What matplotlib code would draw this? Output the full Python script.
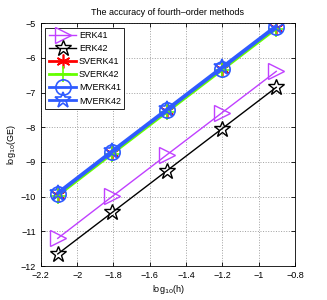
import numpy as np
import matplotlib.pyplot as plt

# step sizes h = 1/8 ... 1/128
log_h = [-2.107, -1.806, -1.505, -1.204, -0.903]

erk41 = [-11.20, -9.99, -8.79, -7.59, -6.39]
erk42 = [-11.65, -10.45, -9.25, -8.05, -6.85]
sverk41 = [-9.94, -8.73, -7.53, -6.33, -5.13]
sverk42 = [-9.97, -8.76, -7.56, -6.36, -5.16]
mverk41 = [-9.92, -8.71, -7.51, -6.31, -5.11]
mverk42 = [-9.88, -8.67, -7.47, -6.27, -5.07]

plt.rcParams['font.family'] = ['Liberation Sans', 'DejaVu Sans']
plt.rcParams['font.size'] = 6.5

fig = plt.figure(figsize=(3.27, 3.0), dpi=100)
ax = fig.add_axes([0.125, 0.113, 0.777, 0.81])

ax.plot(log_h, erk41, color='#c040ff', lw=1.0, marker='>', ms=11, mfc='none', mew=1.0, label='ERK41')
ax.plot(log_h, erk42, color='black', lw=1.0, marker='*', ms=12, mfc='none', mew=1.0, label='ERK42')
ax.plot(log_h, sverk41, color='red', lw=2.0, marker=(6, 2, 0), ms=10, mew=1.2, label='SVERK41')
ax.plot(log_h, sverk42, color='#66ff00', lw=2.0, marker='+', ms=11, mew=1.2, label='SVERK42')
ax.plot(log_h, mverk41, color='#2f5bff', lw=2.0, marker='o', ms=11, mfc='none', mew=1.2, label='MVERK41')
ax.plot(log_h, mverk42, color='#2f5bff', lw=2.0, marker='*', ms=12, mfc='none', mew=1.2, label='MVERK42')

ax.set_xlim(-2.2, -0.8)
ax.set_ylim(-12, -5)
ax.set_xticks(np.arange(-2.2, -0.79, 0.2))
ax.set_xticklabels(['\u22122.2', '\u22122', '\u22121.8', '\u22121.6', '\u22121.4', '\u22121.2', '\u22121', '\u22120.8'])
ax.set_yticks(np.arange(-12, -4.9, 1))
ax.set_yticklabels(['\u221212', '\u221211', '\u221210', '\u22129', '\u22128', '\u22127', '\u22126', '\u22125'])
ax.grid(True, linestyle=':', color='#a0a0a0', lw=0.7)
ax.tick_params(direction='in', length=3, width=0.6, top=True, right=True)
for s in ax.spines.values():
    s.set_linewidth(0.6)

ax.set_title('The accuracy of fourth\u2013order methods', fontsize=6.5, pad=6)
ax.set_xlabel('log$_{10}$(h)', labelpad=2)
ax.set_ylabel('log$_{10}$(GE)', labelpad=2)

leg = ax.legend(loc='upper left', handlelength=3.0, labelspacing=0.45, borderpad=0.4,
                handletextpad=0.3, fancybox=False, edgecolor='black', framealpha=1,
                borderaxespad=0.5)
leg.get_frame().set_linewidth(0.6)

fig.savefig('out.png', dpi=100)
